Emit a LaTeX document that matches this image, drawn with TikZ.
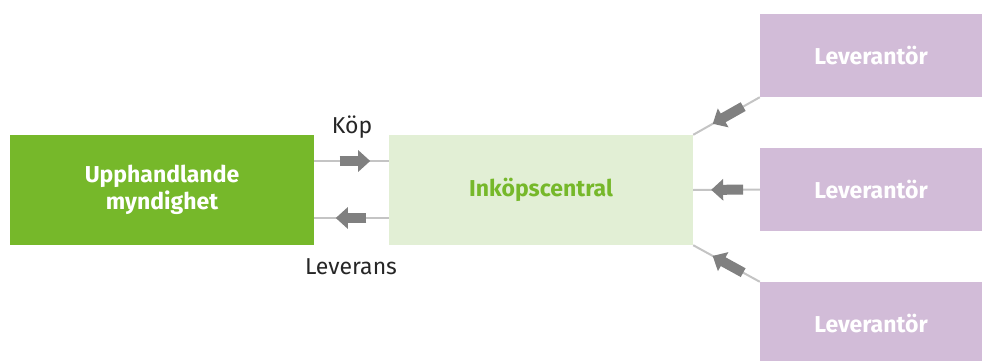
\documentclass[tikz,border=0pt]{standalone}
\usepackage{fontspec}
\setmainfont{Fira Sans}
\usetikzlibrary{arrows.meta,calc}

\definecolor{gron}{HTML}{76B82A}
\definecolor{ljusgron}{HTML}{E2EFD5}
\definecolor{lila}{HTML}{D2BCD8}
\definecolor{pilgra}{HTML}{808080}
\definecolor{linjegra}{HTML}{C4C4C4}

\tikzset{
    ruta/.style={minimum width=304pt, minimum height=110pt, inner sep=0pt, align=center,
        font=\fontsize{23}{27}\selectfont\bfseries},
    levruta/.style={fill=lila, text=white, minimum width=222pt, minimum height=83pt,
        inner sep=0pt, font=\fontsize{23}{27}\selectfont\bfseries},
    tunn/.style={draw=linjegra, line width=2pt},
    fetpil/.style={draw=pilgra, line width=10pt,
        -{Triangle[width=21pt, length=12pt]}, shorten >=-12pt},
    etikett/.style={font=\fontsize{23}{27}\selectfont, text=black!85}
}

\begin{document}
\begin{tikzpicture}[x=1pt, y=-1pt]
            \useasboundingbox (0,0) rectangle (982,361);
            % boxes
            \node[ruta, fill=gron, text=white] (myndighet) at (162,190) {Upphandlande\\myndighet};
            \node[ruta, fill=ljusgron, text=gron] (central) at (541,190) {Inköpscentral};
            \node[levruta] (lev1) at (871,55.5) {Leverantör};
            \node[levruta] (lev2) at (871,189.5) {Leverantör};
            \node[levruta] (lev3) at (871,323.5) {Leverantör};
            % köp / leverans
            \coordinate (kopA) at ([yshift=29pt]myndighet.east);
            \coordinate (kopB) at ([yshift=29pt]central.west);
            \coordinate (levA) at ([yshift=-28pt]myndighet.east);
            \coordinate (levB) at ([yshift=-28pt]central.west);
            \draw[tunn] (kopA) -- (kopB);
            \draw[tunn] (levA) -- (levB);
            \draw[fetpil] ($(kopA)!0.34!(kopB)$) -- ($(kopA)!0.59!(kopB)$);
            \draw[fetpil] ($(levB)!0.3!(levA)$) -- ($(levB)!0.55!(levA)$);
            \node[etikett] (kop) at (352,127) {Köp};
            \node[etikett] (leverans) at (351,267) {Leverans};
            % leverantörer
            \draw[tunn] (lev1.south west) -- (central.north east);
            \draw[tunn] (lev2.west) -- (central.east);
            \draw[tunn] (lev3.north west) -- (central.south east);
            \foreach \l/\c in {lev1.south west/central.north east, lev2.west/central.east,
                    lev3.north west/central.south east}
                \draw[fetpil] ($(\l)!0.25!(\c)$) -- ($(\l)!0.55!(\c)$);
        \end{tikzpicture}
\end{document}
